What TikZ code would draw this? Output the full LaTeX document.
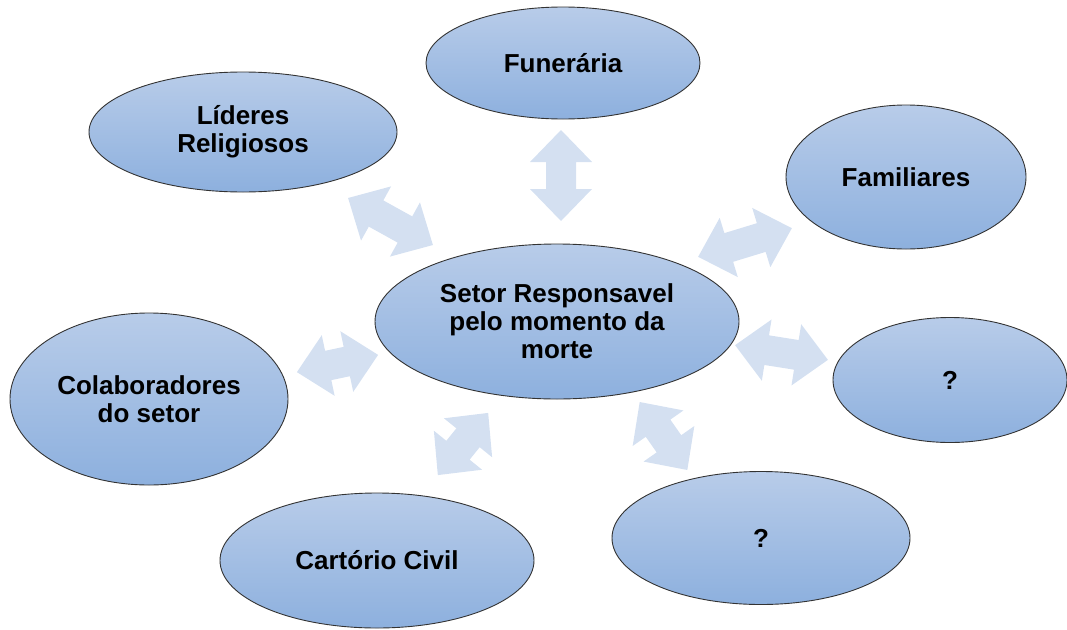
\documentclass[tikz,border=0pt]{standalone}
\usepackage{fontspec}
\setmainfont{Liberation Sans}
\usetikzlibrary{shapes.geometric}
\definecolor{elltop}{HTML}{B8CCE9}
\definecolor{ellbot}{HTML}{8DB0DE}
\definecolor{arrowfill}{HTML}{D4E0F1}
\definecolor{ellline}{HTML}{333333}
\tikzset{
  bubble/.style={ellipse, draw=ellline, line width=0.9pt, top color=elltop, bottom color=ellbot,
    inner sep=0pt, align=center, font=\fontsize{26}{28}\selectfont\bfseries},
  dblarrow/.pic={
    \fill[arrowfill] (-#1/2,0) -- (-#1/2+32,31) -- (-#1/2+32,15) -- (#1/2-32,15) -- (#1/2-32,31)
      -- (#1/2,0) -- (#1/2-32,-31) -- (#1/2-32,-15) -- (-#1/2+32,-15) -- (-#1/2+32,-31) -- cycle;
  }
}
\begin{document}
\begin{tikzpicture}[x=1pt,y=-1pt]
\useasboundingbox (0,0) rectangle (1067,629);
% block arrows
\pic[rotate=90]  at (561,175.5) {dblarrow=91};
\pic[rotate=-29] at (390.5,221.5) {dblarrow=97};
\pic[rotate=17]  at (745,242.5) {dblarrow=98};
\pic[rotate=-9]  at (781.5,352.5) {dblarrow=94};
\pic[rotate=12]  at (337.5,363.5) {dblarrow=83};
\pic[rotate=51]  at (463,444) {dblarrow=80};
\pic[rotate=-55] at (663.5,436) {dblarrow=83};
% ellipses
\node[bubble, minimum width=274pt, minimum height=112pt] (fun) at (563,63) {Funerária};
\node[bubble, minimum width=308pt, minimum height=120pt] (lid) at (243,132) {Líderes\\Religiosos};
\node[bubble, minimum width=240pt, minimum height=144pt] (fam) at (906,177) {Familiares};
\node[bubble, minimum width=364pt, minimum height=155pt] (set) at (557,321.5) {Setor Responsavel\\pelo momento da\\morte};
\node[bubble, minimum width=278pt, minimum height=172pt] (col) at (149,399) {Colaboradores\\do setor};
\node[bubble, minimum width=234pt, minimum height=125pt] (q1) at (950,380) {?};
\node[bubble, minimum width=298pt, minimum height=133pt] (q2) at (761,538) {?};
\node[bubble, minimum width=314pt, minimum height=135pt] (car) at (377,560.5) {Cartório Civil};
\end{tikzpicture}
\end{document}
